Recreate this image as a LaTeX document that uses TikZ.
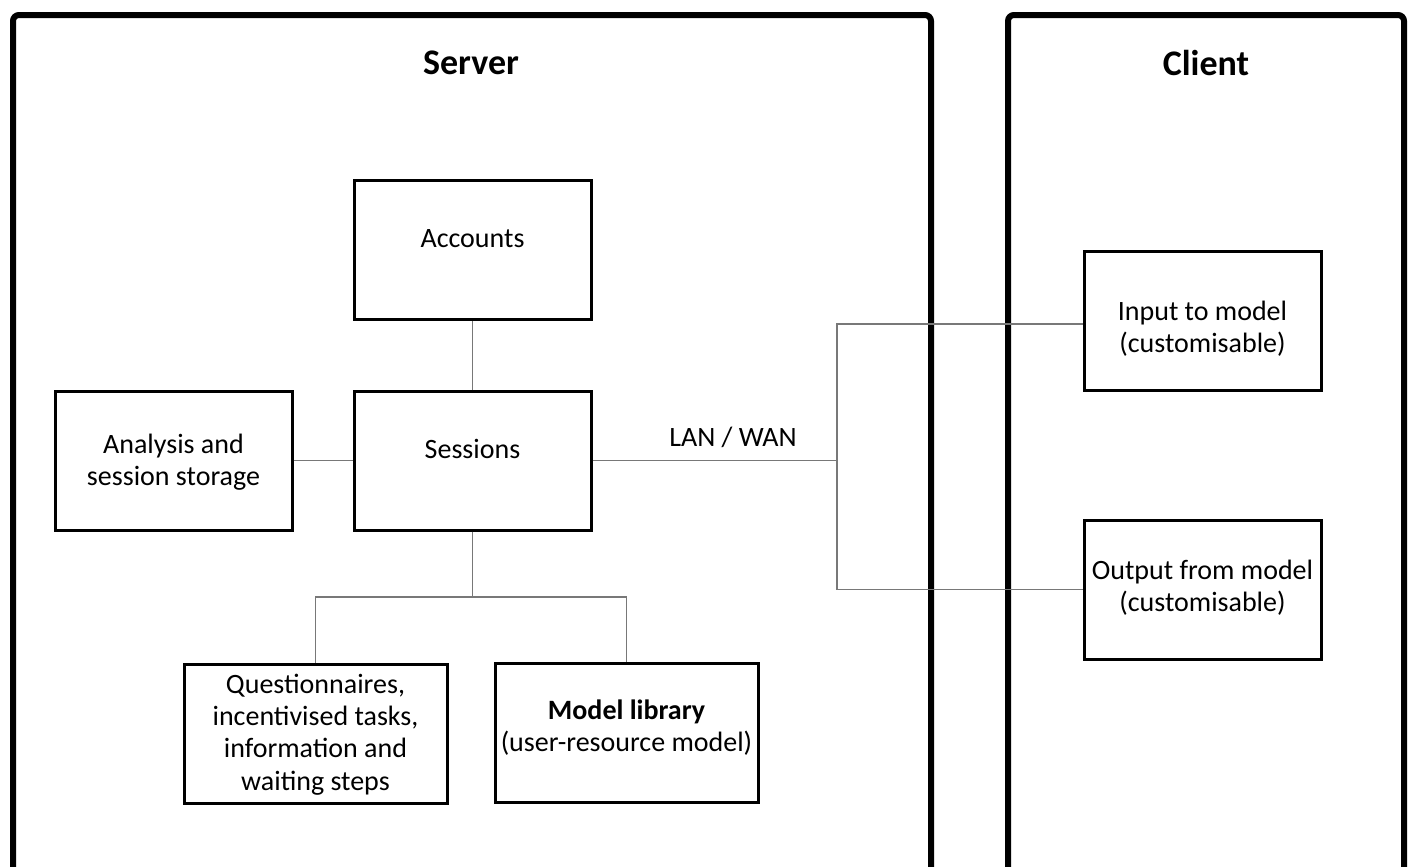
\documentclass[tikz,border=0pt]{standalone}
\usepackage{fontspec}
\setmainfont{Carlito}
\usepackage{tikz}
\usepackage{xcolor}
\tikzset{every picture/.style={line width=0.75pt}}
\newcommand{\stacklines}[2][0pt]{\raisebox{#1}[0pt][0pt]{\begin{tabular}{@{}c@{}}#2\end{tabular}}}
\tikzset{
  compbox/.style={draw, line width=1.5pt, minimum width=118.5pt, minimum height=69.5pt, inner sep=0pt, font=\fontsize{14}{16.2}\selectfont},
  wire/.style={draw={rgb, 255:red, 120; green, 120; blue, 120 }, line width=0.75pt},
  frame/.style={line width=3pt, rounded corners=3pt},
  heading/.style={font=\fontsize{18}{22}\selectfont\bfseries}
}

\begin{document}
\begin{tikzpicture}[x=0.5pt,y=0.5pt,yscale=-1,xscale=1]
\useasboundingbox (0,0) rectangle (1409,867);

%Shape: Server frame
\draw [frame] (13,880) -- (13,15) -- (931,15) -- (931,880) ;
%Shape: Client frame
\draw [frame] (1008,880) -- (1008,15) -- (1404,15) -- (1404,880) ;

% Text Node
\node [heading] (server) at (471,63) {Server};
% Text Node
\node [heading] (client) at (1206,63) {Client};

%Shape: Rectangle
\node [compbox] (acc) at (472.5,250) {\stacklines[1pt]{Accounts}};
%Shape: Rectangle
\node [compbox] (ses) at (472.5,460.5) {\stacklines[0.5pt]{Sessions}};
%Shape: Rectangle
\node [compbox] (ana) at (173.5,460.5) {\stacklines[-5pt]{Analysis and\\session storage}};
%Shape: Rectangle
\node [compbox, minimum width=131.5pt] (que) at (315.5,733.5) {\stacklines[-4.5pt]{Questionnaires,\\incentivised tasks,\\information and\\waiting steps}};
%Shape: Rectangle
\node [compbox, minimum width=131.5pt] (lib) at (626.5,733) {\stacklines[-1.5pt]{\textbf{Model library}\\(user-resource model)}};
%Shape: Rectangle
\node [compbox] (inp) at (1202.5,321) {\stacklines[-8.25pt]{Input to model\\(customisable)}};
%Shape: Rectangle
\node [compbox] (out) at (1202.5,589.5) {\stacklines[-3.25pt]{Output from model\\(customisable)}};

% Text Node
\node [font=\fontsize{14}{16}\selectfont] (lan) at (733,437) {LAN / WAN};

%Straight Lines
\coordinate (hub) at (837,460.5);
\coordinate (split) at (472.5,597);
\draw [wire] (acc.south) -- (ses.north) ;
\draw [wire] (ana.east) -- (ses.west) ;
\draw [wire] (ses.east) -- (hub) ;
\draw [wire] (hub) |- ([yshift=1.5pt]inp.west) ;
\draw [wire] (hub) |- (out.west) ;
\draw [wire] (ses.south) -- (split) ;
\draw [wire] (split) -| (que.north) ;
\draw [wire] (split) -| (lib.north) ;

\end{tikzpicture}
\end{document}
